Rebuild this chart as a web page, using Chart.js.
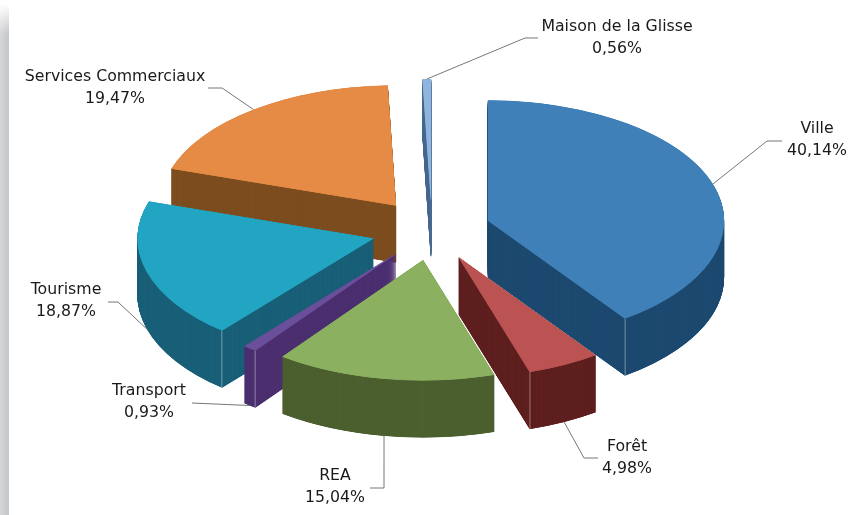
<!DOCTYPE html>
<html>
	<head>
		<meta charset="utf-8">
		<title>Répartition</title>
		<script src="https://cdn.jsdelivr.net/npm/chart.js@4"></script>
		<style>
			html, body { margin: 0; padding: 0; background: #fff; overflow: hidden; }
			#wrap { position: relative; width: 851px; height: 515px; }
			#shadow {
				position: absolute; left: 0; top: 0; width: 9px; height: 515px;
				background: linear-gradient(to right, #d6d7d9, #c3c5c8);
				-webkit-mask-image: linear-gradient(to bottom, transparent 4px, #000 34px);
				mask-image: linear-gradient(to bottom, transparent 4px, #000 34px);
			}
			canvas { position: absolute; left: 0; top: 0; }
		</style>
	</head>
	<body>
		<div id="wrap">
			<div id="shadow"></div>
			<canvas id="myChart" width="851" height="515"></canvas>
		</div>
		<script>
			const categories = ["Ville", "Forêt", "REA", "Transport", "Tourisme", "Services Commerciaux", "Maison de la Glisse"];
			const values = [40.14, 4.98, 15.04, 0.93, 18.87, 19.47, 0.56];
			const valueLabels = ["40,14%", "4,98%", "15,04%", "0,93%", "18,87%", "19,47%", "0,56%"];

			const topColors = ["#3f80b8", "#bb5353", "#8bb060", "#6a4f9a", "#22a5c2", "#e68b45", "#8fb5dd"];
			const wallColors = ["#1e4a70", "#5f2020", "#4d6030", "#4c3070", "#1a6078", "#7d4e20", "#4a6a90"];

			// pie look: flattening, thickness and how far the slices are pulled out
			const tilt = 0.51;
			const depth = 57;
			const explode = 60;
			const radius = 236;

			// small sideways shift per slice, the original is not pulled out quite radially
			const nudge = [1, 2, 3, 3, 1, 2, 2];

			// back to front
			const drawOrder = [5, 6, 4, 3, 0, 1, 2];

			// light line on the front corner of a slice
			const ridges = { 0: "endAngle", 1: "endAngle", 3: "startAngle", 4: "startAngle" };

			// where each label sits, and the leader line from the label to the slice
			const labelLayout = [
				{ x: 817, y: 129, from: [782, 141], elbow: [767, 141] },
				{ x: 627, y: 447, from: [598, 458], elbow: [584, 458] },
				{ x: 335, y: 476, from: [370, 488], elbow: [384, 488] },
				{ x: 149, y: 391, from: [192, 403], elbow: [192, 403] },
				{ x: 66, y: 290, from: [108, 302], elbow: [118, 302] },
				{ x: 115, y: 77, from: [208, 88], elbow: [222, 88] },
				{ x: 617, y: 27, from: [538, 38], elbow: [525, 38] }
			];

			function midAngle (arc) {
				return (arc.startAngle + arc.endAngle) / 2;
			}

			// position on the tilted pie, for an angle of the slice
			function rimPoint (arc, i, angle, r, z) {
				const mid = midAngle(arc);
				return {
					x: arc.x + nudge[i] + Math.cos(mid) * explode + Math.cos(angle) * r,
					y: arc.y + (Math.sin(mid) * explode + Math.sin(angle) * r) * tilt + z
				};
			}

			function drawLayer (ctx, arc, i, color, z) {
				const mid = midAngle(arc);
				const saved = arc.options;
				// border in the same colour, otherwise the stacked edges leave stripes
				arc.options = Object.assign({}, saved, { backgroundColor: color, borderColor: color, borderWidth: 1, borderAlign: "inner" });
				ctx.save();
				ctx.translate(arc.x + nudge[i] + Math.cos(mid) * explode, arc.y + Math.sin(mid) * explode * tilt + z);
				ctx.scale(1, tilt);
				ctx.translate(-arc.x, -arc.y);
				arc.draw(ctx);
				ctx.restore();
				arc.options = saved;
			}

			const pie3d = {
				id: "pie3d",
				beforeDatasetsDraw (chart) {
					const ctx = chart.ctx;
					const arcs = chart.getDatasetMeta(0).data;
					drawOrder.forEach(i => {
						const arc = arcs[i];
						for (let z = depth; z > 0; z -= 0.5) {
							drawLayer(ctx, arc, i, wallColors[i], z);
						}
						if (ridges[i]) {
							const a = rimPoint(arc, i, arc[ridges[i]], radius, 0);
							ctx.save();
							ctx.strokeStyle = "rgba(255,255,255,0.4)";
							ctx.lineWidth = 1;
							ctx.beginPath();
							ctx.moveTo(a.x, a.y);
							ctx.lineTo(a.x, a.y + depth);
							ctx.stroke();
							ctx.restore();
						}
						drawLayer(ctx, arc, i, topColors[i], 0);
					});
					return false;
				},
				afterDraw (chart) {
					const ctx = chart.ctx;
					const arcs = chart.getDatasetMeta(0).data;
					ctx.save();
					categories.forEach((name, i) => {
						const arc = arcs[i];
						const mid = midAngle(arc);
						const spot = labelLayout[i];
						// front slices: line goes to the bottom of the wall
						const anchor = rimPoint(arc, i, mid, radius, Math.sin(mid) > 0 ? depth : 0);
						ctx.strokeStyle = "#777";
						ctx.lineWidth = 1;
						ctx.beginPath();
						ctx.moveTo(spot.from[0], spot.from[1]);
						ctx.lineTo(spot.elbow[0], spot.elbow[1]);
						ctx.lineTo(anchor.x, anchor.y);
						ctx.stroke();

						ctx.fillStyle = "#1a1a1a";
						ctx.font = "15.75px 'DejaVu Sans'";
						ctx.textAlign = "center";
						ctx.textBaseline = "middle";
						ctx.fillText(name, spot.x, spot.y);
						ctx.fillText(valueLabels[i], spot.x, spot.y + 22);
					});
					ctx.restore();
				}
			};

			var chart = new Chart(document.getElementById("myChart").getContext("2d"), {
				type: "pie",
				plugins: [pie3d],
				data: {
					labels: categories,
					datasets: [{
						data: values,
						backgroundColor: topColors,
						borderWidth: 0,
						hoverOffset: 0,
						radius: radius
					}]
				},
				options: {
					responsive: false,
					animation: false,
					layout: { padding: { left: 9, bottom: 55 } },
					plugins: {
						legend: { display: false },
						tooltip: { enabled: false }
					}
				}
			});
		</script>
	</body>
</html>
